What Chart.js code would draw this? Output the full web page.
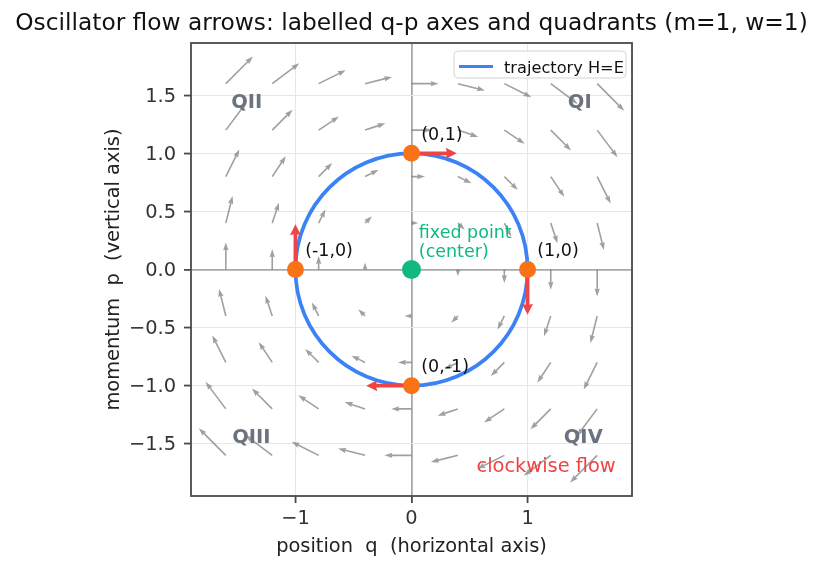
<!DOCTYPE html>
<html>
<head>
<meta charset="utf-8">
<script src="https://cdn.jsdelivr.net/npm/chart.js@4.4.0/dist/chart.umd.min.js"></script>
<style>
  html, body { margin: 0; padding: 0; background: #fff; }
</style>
</head>
<body>
<canvas id="grafico" width="823" height="569"></canvas>
<script>
// grid of the flow field (q, p)
const qGrid = [-1.6, -1.2, -0.8, -0.4, 0, 0.4, 0.8, 1.2, 1.6];
const pGrid = [-1.6, -1.2, -0.8, -0.4, 0, 0.4, 0.8, 1.2, 1.6];

// turning points on the H=E orbit
const turnQ = [1, 0, -1, 0];
const turnP = [0, 1, 0, -1];
const turnLabels = ['(1,0)', '(0,1)', '(-1,0)', '(0,-1)'];

// fixed point
const centerQ = [0];
const centerP = [0];

// orbit drawn through the turning points, clockwise (wraps round once more)
const orbitOrder = [1, 0, 3, 2, 1, 0, 3];

const qTicks = [-1, 0, 1];
const qTickLabels = ['\u22121', '0', '1'];
const pTicks = [-1.5, -1.0, -0.5, 0, 0.5, 1.0, 1.5];
const pTickLabels = ['\u22121.5', '\u22121.0', '\u22120.5', '0.0', '0.5', '1.0', '1.5'];

const quadNames = ['QI', 'QII', 'QIII', 'QIV'];
const quadQ = [1.45, -1.42, -1.38, 1.48];
const quadP = [1.43, 1.43, -1.45, -1.45];

const FONT = 'DejaVu Sans';
const BLUE = '#3b82f6';
const ORANGE = '#f97316';
const GREEN = '#10b981';
const RED = '#ef4444';
const GREY = '#6b7280';

Chart.defaults.font.family = FONT;

function arrow(ctx, x0, y0, x1, y1, w, hl, hw, ha, color) {
  const dx = x1 - x0, dy = y1 - y0;
  const L = Math.hypot(dx, dy);
  if (L < 0.5) return;
  const ux = dx / L, uy = dy / L, nx = -uy, ny = ux;
  let sw = w / 2;
  if (L < hl) { const k = L / hl; hl *= k; hw *= k; ha *= k; sw *= k; }
  const sx = x1 - ux * ha, sy = y1 - uy * ha;
  const bx = x1 - ux * hl, by = y1 - uy * hl;
  ctx.beginPath();
  ctx.moveTo(x0 + nx * sw, y0 + ny * sw);
  ctx.lineTo(sx + nx * sw, sy + ny * sw);
  ctx.lineTo(bx + nx * hw, by + ny * hw);
  ctx.lineTo(x1, y1);
  ctx.lineTo(bx - nx * hw, by - ny * hw);
  ctx.lineTo(sx - nx * sw, sy - ny * sw);
  ctx.lineTo(x0 - nx * sw, y0 - ny * sw);
  ctx.closePath();
  ctx.fillStyle = color;
  ctx.fill();
}

const desenhos = {
  id: 'desenhos',
  beforeDatasetsDraw(chart) {
    const ctx = chart.ctx, sx = chart.scales.x, sy = chart.scales.y;
    const area = chart.chartArea;
    ctx.save();
    ctx.beginPath();
    ctx.rect(area.left, area.top, area.right - area.left, area.bottom - area.top);
    ctx.clip();
    // flow dq/dt = p, dp/dt = -q
    const escala = 0.1455;
    for (const p of pGrid) {
      for (const q of qGrid) {
        const x0 = sx.getPixelForValue(q), y0 = sy.getPixelForValue(p);
        const x1 = sx.getPixelForValue(q + escala * p), y1 = sy.getPixelForValue(p - escala * q);
        arrow(ctx, x0, y0, x1, y1, 1.6, 8, 2.7, 7.2, 'rgba(120,120,120,0.7)');
      }
    }
    ctx.restore();
  },
  afterDatasetDraw(chart, args) {
    if (args.index !== 0) return;
    const ctx = chart.ctx, sx = chart.scales.x, sy = chart.scales.y;
    const comp = 0.39;
    ctx.save();
    for (let i = 0; i < turnQ.length; i++) {
      const q = turnQ[i], p = turnP[i];
      arrow(ctx, sx.getPixelForValue(q), sy.getPixelForValue(p),
        sx.getPixelForValue(q + comp * p), sy.getPixelForValue(p - comp * q),
        3.8, 11, 5.5, 10, RED);
    }
    ctx.restore();
  },
  afterDraw(chart) {
    const ctx = chart.ctx, sx = chart.scales.x, sy = chart.scales.y;
    const a = chart.chartArea;
    ctx.save();

    // spines
    ctx.strokeStyle = '#4a4a4a';
    ctx.lineWidth = 1.8;
    ctx.strokeRect(a.left, a.top, a.right - a.left, a.bottom - a.top);

    // turning point labels
    ctx.fillStyle = '#111';
    ctx.font = '17.5px "' + FONT + '"';
    ctx.textAlign = 'left';
    ctx.textBaseline = 'alphabetic';
    for (let i = 0; i < turnQ.length; i++) {
      ctx.fillText(turnLabels[i], sx.getPixelForValue(turnQ[i]) + 9.7, sy.getPixelForValue(turnP[i]) - 13.6);
    }

    // fixed point
    ctx.fillStyle = GREEN;
    const cx = sx.getPixelForValue(centerQ[0]), cy = sy.getPixelForValue(centerP[0]);
    ctx.fillText('fixed point', cx + 7.3, cy - 32);
    ctx.fillText('(center)', cx + 7.3, cy - 12.3);

    // quadrants
    ctx.fillStyle = GREY;
    ctx.font = 'bold 19.5px "' + FONT + '"';
    ctx.textAlign = 'center';
    ctx.textBaseline = 'middle';
    for (let i = 0; i < quadNames.length; i++) {
      ctx.fillText(quadNames[i], sx.getPixelForValue(quadQ[i]), sy.getPixelForValue(quadP[i]));
    }

    // clockwise note
    ctx.fillStyle = RED;
    ctx.font = '19.4px "' + FONT + '"';
    ctx.textBaseline = 'alphabetic';
    ctx.fillText('clockwise flow', sx.getPixelForValue(1.16), sy.getPixelForValue(-1.74));

    // title
    ctx.fillStyle = '#111';
    ctx.font = '23.3px "' + FONT + '"';
    ctx.fillText('Oscillator flow arrows: labelled q-p axes and quadrants (m=1, w=1)', 411.5, 29.5);

    // axis titles
    ctx.font = '19.4px "' + FONT + '"';
    ctx.fillStyle = '#222';
    ctx.fillText('position  q  (horizontal axis)', (a.left + a.right) / 2, 551.7);
    ctx.save();
    ctx.translate(118.5, (a.top + a.bottom) / 2);
    ctx.rotate(-Math.PI / 2);
    ctx.fillText('momentum  p  (vertical axis)', 0, 0);
    ctx.restore();

    // legend
    const lx = 454, ly = 51, lw = 172, lh = 27;
    ctx.beginPath();
    ctx.roundRect(lx, ly, lw, lh, 4);
    ctx.fillStyle = 'rgba(255,255,255,0.85)';
    ctx.fill();
    ctx.strokeStyle = '#d4d4d4';
    ctx.lineWidth = 1;
    ctx.stroke();
    ctx.strokeStyle = BLUE;
    ctx.lineWidth = 3.2;
    ctx.beginPath();
    ctx.moveTo(459, 66.5);
    ctx.lineTo(493, 66.5);
    ctx.stroke();
    ctx.fillStyle = '#111';
    ctx.font = '16.2px "' + FONT + '"';
    ctx.textAlign = 'left';
    ctx.fillText(chart.data.datasets[0].label, 504, 72.5);

    ctx.restore();
  }
};

const orbita = orbitOrder.map(i => ({ x: turnQ[i], y: turnP[i] }));
const ultimo = orbita.length - 1;

const grafico = new Chart(document.getElementById('grafico').getContext('2d'), {
  type: 'scatter',
  data: {
    datasets: [
      {
        label: 'trajectory H=E',
        data: orbita,
        showLine: true,
        borderColor: BLUE,
        borderWidth: 3.7,
        pointRadius: 0,
        tension: 0.5523,
        segment: {
          borderColor: c => (c.p0DataIndex === 0 || c.p1DataIndex === ultimo) ? 'transparent' : BLUE
        },
        order: 3
      },
      {
        label: 'turning points',
        data: turnQ.map((q, i) => ({ x: q, y: turnP[i] })),
        pointRadius: 8.5,
        pointBackgroundColor: ORANGE,
        pointBorderWidth: 0,
        order: 1
      },
      {
        label: 'center',
        data: centerQ.map((q, i) => ({ x: q, y: centerP[i] })),
        pointRadius: 9.5,
        pointBackgroundColor: GREEN,
        pointBorderWidth: 0,
        order: 1
      }
    ]
  },
  options: {
    responsive: false,
    animation: false,
    devicePixelRatio: 1,
    layout: { padding: { left: 0, top: 43, right: 191, bottom: 0 } },
    plugins: { legend: { display: false }, title: { display: false }, tooltip: { enabled: false } },
    scales: {
      x: {
        type: 'linear', min: -1.9, max: 1.9,
        afterBuildTicks: s => { s.ticks = qTicks.map(v => ({ value: v })); },
        afterFit: s => { s.height = 73; },
        ticks: {
          callback: v => qTickLabels[qTicks.indexOf(v)],
          color: '#333', font: { size: 19.4 }, padding: 4, maxRotation: 0, autoSkip: false
        },
        grid: {
          color: c => (c.tick && c.tick.value === 0) ? '#a8a8a8' : '#e6e6e6',
          lineWidth: c => (c.tick && c.tick.value === 0) ? 1.8 : 1.1,
          tickColor: '#4a4a4a', tickLength: 7, tickWidth: 1.8
        },
        border: { display: false }
      },
      y: {
        type: 'linear', min: -1.95, max: 1.95,
        afterBuildTicks: s => { s.ticks = pTicks.map(v => ({ value: v })); },
        afterFit: s => { s.width = 191; },
        ticks: {
          callback: v => pTickLabels[pTicks.indexOf(v)],
          color: '#333', font: { size: 19.4 }, padding: 8, labelOffset: 1.5, autoSkip: false
        },
        grid: {
          color: c => (c.tick && c.tick.value === 0) ? '#a8a8a8' : '#e6e6e6',
          lineWidth: c => (c.tick && c.tick.value === 0) ? 1.8 : 1.1,
          tickColor: '#4a4a4a', tickLength: 7, tickWidth: 1.8
        },
        border: { display: false }
      }
    }
  },
  plugins: [desenhos]
});
</script>
</body>
</html>
